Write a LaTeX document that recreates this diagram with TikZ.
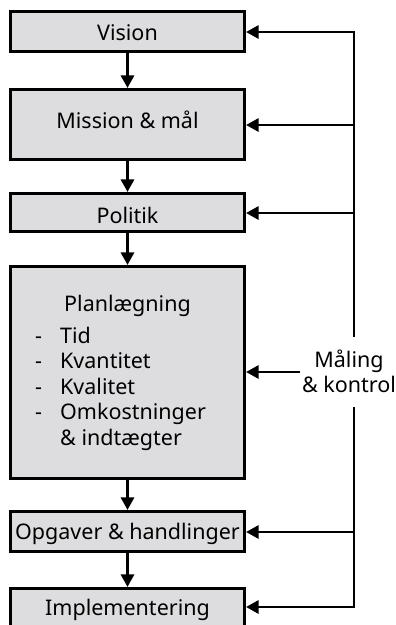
\documentclass[tikz,border=0pt]{standalone}
\usepackage{fontspec}
\setmainfont{Noto Sans}
\usetikzlibrary{arrows.meta}
\definecolor{boxgray}{HTML}{DDDDDF}
\newcommand{\labelfont}{\fontsize{21.5}{25.5}\selectfont}
\begin{document}
\begin{tikzpicture}[x=1pt,y=-1pt,
  stepbox/.style={draw=black, fill=boxgray, line width=3.1pt,
    minimum width=234pt, inner sep=0pt},
  txt/.style={font=\labelfont, inner sep=0pt, text=black},
  arr/.style={line width=2.8pt, line join=miter,
    -{Triangle[length=12.5pt,width=13pt]}}]
\useasboundingbox (0,0) rectangle (396,625);

% process boxes
\node[stepbox, minimum height=40pt]  (vision)  at (127.5,31.5)  {};
\node[stepbox, minimum height=70pt]  (mission) at (127.5,124.5) {};
\node[stepbox, minimum height=38pt]  (politik) at (127.5,212.5) {};
\node[stepbox, minimum height=212pt] (plan)    at (127.5,372.5) {};
\node[stepbox, minimum height=40pt]  (opg)     at (127.5,531.5) {};
\node[stepbox, minimum height=40pt]  (impl)    at (127.5,608.5) {};

% box labels
\node[txt, anchor=base] (tvision)  at (127.5,40)  {Vision};
\node[txt, anchor=base] (tmission) at (127.5,128) {Mission \& mål};
\node[txt, anchor=base] (tpolitik) at (127.5,223) {Politik};
\node[txt, anchor=base] (tplan)    at (127.5,311) {Planlægning};
\node[txt, anchor=base west] (tlist) at (35,343) {%
  \begin{tabular}[t]{@{}l@{}}
  \makebox[25pt][l]{-}Tid\\
  \makebox[25pt][l]{-}Kvantitet\\
  \makebox[25pt][l]{-}Kvalitet\\
  \makebox[25pt][l]{-}Omkostninger\\
  \hspace*{25pt}\& indtægter
  \end{tabular}};
\node[txt, anchor=base] (topg)  at (127.5,539) {Opgaver \& handlinger};
\node[txt, anchor=base] (timpl) at (127.5,615) {Implementering};

% feedback label
\node[txt, anchor=base] (maal) at (349,367) {%
  \begin{tabular}[t]{@{}c@{}}Måling\\ \& kontrol\end{tabular}};

% downward flow
\draw[arr] (vision)  -- (mission);
\draw[arr] (mission) -- (politik);
\draw[arr] (politik) -- (plan);
\draw[arr] (plan)    -- (opg);
\draw[arr] (opg)     -- (impl);

% feedback loop
\coordinate (r1)   at (354,32);
\coordinate (r2)   at (354,125);
\coordinate (r3)   at (354,213);
\coordinate (rp)   at (300,372);
\coordinate (r5)   at (354,532);
\coordinate (r6)   at (354,607);
\coordinate (gtop) at (354,337);
\coordinate (gbot) at (354,407);

\draw[arr] (gtop) -- (r1) -- (r1 -| vision.east);
\draw[arr] (r2) -- (r2 -| mission.east);
\draw[arr] (r3) -- (r3 -| politik.east);
\draw[arr] (rp) -- (rp -| plan.east);
\draw[arr] (r5) -- (r5 -| opg.east);
\draw[arr] (gbot) -- (r6) -- (r6 -| impl.east);
\end{tikzpicture}
\end{document}
